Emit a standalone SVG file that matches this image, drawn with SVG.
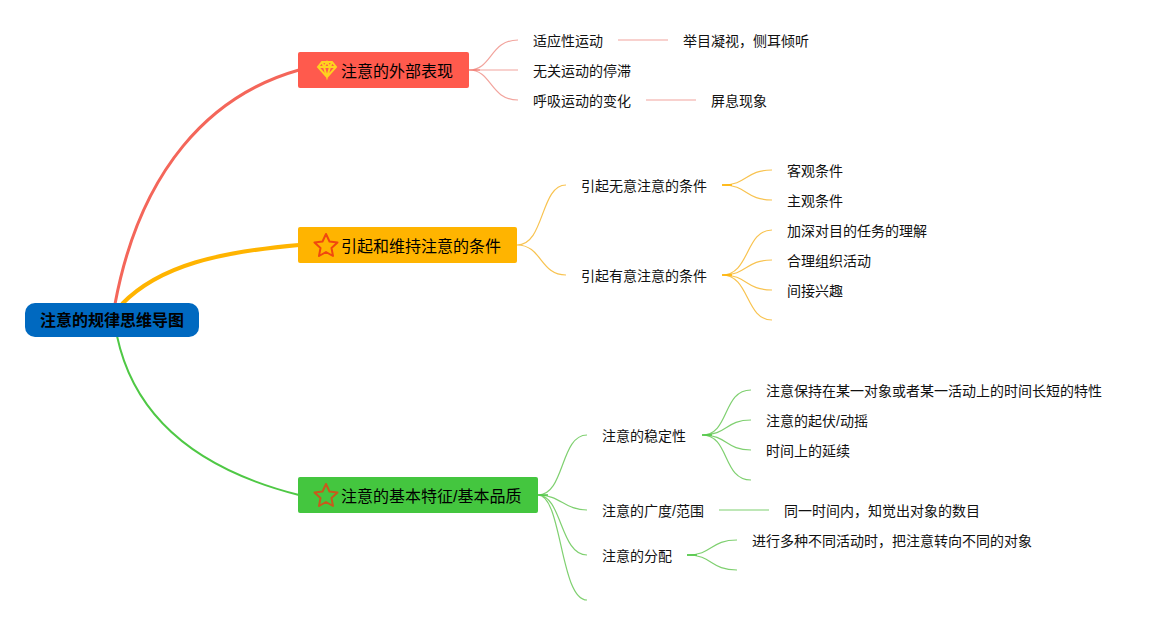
<svg xmlns="http://www.w3.org/2000/svg" width="1162" height="625" viewBox="0 0 1162 625">
<style>
text{font-family:"Liberation Sans","Noto Sans CJK SC",sans-serif;font-size:14px;fill:#111;dominant-baseline:central}
.t{font-size:16px;fill:#000}
.r{font-size:16px;font-weight:bold;fill:#000}
path{fill:none}
.c1{stroke:#f2a49d;stroke-width:1.2}
.c2{stroke:#f8c350;stroke-width:1.2}
.c3{stroke:#7fd070;stroke-width:1.2}
</style>
<rect width="1162" height="625" fill="#fff"/>
<g id="connectors">
<path d="M115 304C140 170 210 95 299 70" stroke="#f4665a" stroke-width="3"/>
<path d="M122 304C160 265 220 252 299 245" stroke="#ffb400" stroke-width="4"/>
<path d="M117 336C135 420 200 470 299 495" stroke="#4fc845" stroke-width="2"/>
<path class="c1" d="M469 70C492 70 490 40 518 40M469 70H518M469 70C492 70 490 100 518 100"/>
<path d="M469 70H480" stroke="#f4665a" stroke-width="1.500" opacity=".6"/>
<path class="c1" d="M618 40H668M646 100H696"/>
<path class="c2" d="M517 245C545 245 540 185 566 185M517 245C542 245 540 275 566 275"/>
<path class="c2" d="M722 185C748 185 745 170 772 170M722 185C748 185 745 200 772 200"/>
<path class="c2" d="M722 275C750 275 745 230 772 230M722 275C748 275 745 260 772 260M722 275C748 275 745 290 772 290M722 275C750 275 745 320 772 320"/>
<path d="M722 185H732M722 275H732" stroke="#ffb400" stroke-width="1.500"/>
<path class="c3" d="M538 495C565 495 560 435 587 435M538 495C560 495 565 510 587 510M538 495C562 495 560 555 587 555M538 495C562 495 560 600 587 600"/>
<path class="c3" d="M702 435C730 435 722 390 751 390M702 435C728 435 725 420 751 420M702 435C728 435 725 450 751 450M702 435C730 435 722 480 751 480"/>
<path class="c3" d="M719 510H769"/>
<path class="c3" d="M687 555C713 555 710 540 737 540M687 555C713 555 710 570 737 570"/>
<path d="M702 435H712M687 555H697M538 495H548" stroke="#4fc845" stroke-width="1.500"/>
</g>
<g id="root"><rect x="25" y="303" width="174" height="34" rx="10" fill="#0069c0"/><text class="r" x="112" y="320" text-anchor="middle">注意的规律思维导图</text></g>
<g id="n1"><rect x="298" y="52" width="171" height="36" rx="2" fill="#ff5a4d"/>
<g fill="none" stroke="#ffd21f" stroke-width="2"><path d="M322 62H332L336 67L327 77L318 67ZM318 67H336M322 62L324 67L327 77L330 67L332 62M324 67L327 62L330 67"/></g>
<text class="t" x="341" y="71">注意的外部表现</text></g>
<g id="n2"><rect x="298" y="227" width="219" height="36" rx="2" fill="#ffb400"/>
<path d="M326 234L329.500 241.500L337.500 242.500L331.500 248L333 256L326 252L319 256L320.500 248L314.500 242.500L322.500 241.500Z" fill="none" stroke="#f0480f" stroke-width="2" stroke-linejoin="round"/>
<text class="t" x="341" y="246">引起和维持注意的条件</text></g>
<g id="n3"><rect x="298" y="477" width="240" height="36" rx="2" fill="#44c63f"/>
<path d="M326 484L329.500 491.500L337.500 492.500L331.500 498L333 506L326 502L319 506L320.500 498L314.500 492.500L322.500 491.500Z" fill="none" stroke="#c8591c" stroke-width="2" stroke-linejoin="round"/>
<text class="t" x="341" y="496">注意的基本特征/基本品质</text></g>
<g id="n1a"><text x="533" y="41">适应性运动</text></g>
<g id="n1a1"><text x="683" y="41">举目凝视，侧耳倾听</text></g>
<g id="n1b"><text x="533" y="71">无关运动的停滞</text></g>
<g id="n1c"><text x="533" y="101">呼吸运动的变化</text></g>
<g id="n1c1"><text x="711" y="101">屏息现象</text></g>
<g id="n2a"><text x="581" y="186">引起无意注意的条件</text></g>
<g id="n2a1"><text x="787" y="171">客观条件</text></g>
<g id="n2a2"><text x="787" y="201">主观条件</text></g>
<g id="n2b"><text x="581" y="276">引起有意注意的条件</text></g>
<g id="n2b1"><text x="787" y="231">加深对目的任务的理解</text></g>
<g id="n2b2"><text x="787" y="261">合理组织活动</text></g>
<g id="n2b3"><text x="787" y="291">间接兴趣</text></g>
<g id="n3a"><text x="602" y="436">注意的稳定性</text></g>
<g id="n3a1"><text x="766" y="391">注意保持在某一对象或者某一活动上的时间长短的特性</text></g>
<g id="n3a2"><text x="766" y="421">注意的起伏/动摇</text></g>
<g id="n3a3"><text x="766" y="451">时间上的延续</text></g>
<g id="n3b"><text x="602" y="511">注意的广度/范围</text></g>
<g id="n3b1"><text x="784" y="511">同一时间内，知觉出对象的数目</text></g>
<g id="n3c"><text x="602" y="556">注意的分配</text></g>
<g id="n3c1"><text x="752" y="541">进行多种不同活动时，把注意转向不同的对象</text></g>
</svg>
